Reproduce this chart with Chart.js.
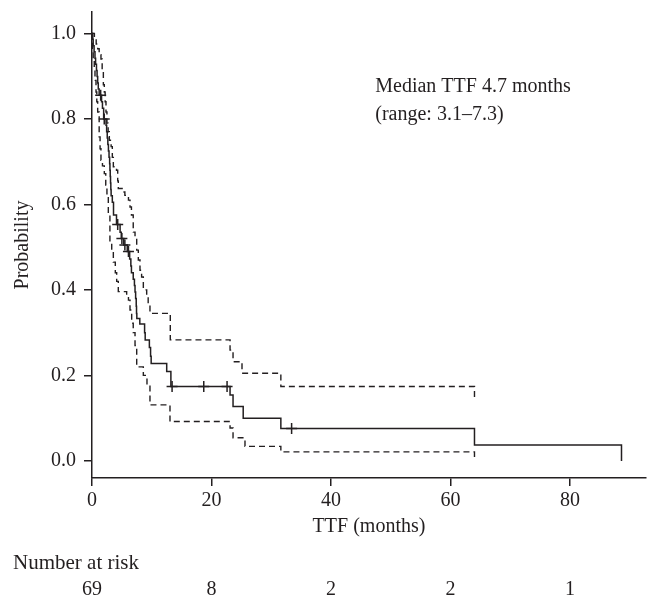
<!DOCTYPE html>
<html>
<head>
<meta charset="utf-8">
<script src="https://cdn.jsdelivr.net/npm/chart.js@4/dist/chart.umd.min.js"></script>
<style>
  html, body { margin: 0; padding: 0; background: #fff; }
  #wrap { width: 657px; height: 611px; }
</style>
</head>
<body>
<div id="wrap"><canvas id="km"></canvas></div>
<script>
// Kaplan-Meier estimate: [time in months, probability] at each step
const kmSteps = [
  [0, 1.0], [0.1, 0.986], [0.2, 0.971], [0.35, 0.957], [0.5, 0.942], [0.6, 0.928],
  [0.75, 0.913], [0.85, 0.899], [0.95, 0.884], [1.05, 0.870], [1.2, 0.855],
  [1.6, 0.84], [1.75, 0.825], [1.95, 0.80], [2.35, 0.785], [2.45, 0.77], [2.55, 0.755],
  [2.65, 0.74], [2.75, 0.725], [2.85, 0.71], [2.95, 0.695], [3.0, 0.68], [3.05, 0.665],
  [3.1, 0.65], [3.15, 0.635], [3.2, 0.62], [3.4, 0.605], [3.6, 0.575], [4.1, 0.553],
  [4.7, 0.535], [4.9, 0.52], [5.3, 0.505], [5.9, 0.49], [6.3, 0.472], [6.5, 0.456],
  [6.6, 0.44], [6.9, 0.425], [7.1, 0.41], [7.2, 0.395], [7.3, 0.38], [7.4, 0.362],
  [7.45, 0.345], [7.5, 0.333], [8.0, 0.32], [8.8, 0.30], [8.9, 0.283], [9.6, 0.265],
  [9.8, 0.245], [9.9, 0.228], [12.5, 0.209], [13.2, 0.174], [23.1, 0.154],
  [23.6, 0.127], [25.3, 0.10], [31.6, 0.076], [64.0, 0.037], [88.6, 0.0]
];

// upper and lower confidence limits
const upperSteps = [
  [0, 1.0], [0.4, 0.99], [0.7, 0.975], [0.95, 0.964], [1.2, 0.95], [1.5, 0.94],
  [1.7, 0.91], [1.9, 0.88], [2.06, 0.863], [2.2, 0.84], [2.34, 0.816], [2.5, 0.79],
  [2.7, 0.77], [2.9, 0.75], [3.2, 0.735], [3.4, 0.71], [3.57, 0.688], [4.1, 0.68],
  [4.3, 0.655], [4.4, 0.637], [5.24, 0.629], [5.5, 0.621], [6.1, 0.61], [6.36, 0.594],
  [6.6, 0.575], [6.9, 0.535], [7.2, 0.52], [7.48, 0.493], [7.75, 0.47], [8.03, 0.446],
  [8.3, 0.43], [8.59, 0.40], [9.15, 0.384], [9.4, 0.365], [9.7, 0.345], [13.1, 0.283],
  [23.1, 0.259], [23.6, 0.232], [25.1, 0.205], [31.6, 0.174], [64.0, 0.143]
];
const lowerSteps = [
  [0, 1.0], [0.1, 0.965], [0.2, 0.94], [0.38, 0.918], [0.5, 0.89], [0.67, 0.863],
  [0.8, 0.84], [0.95, 0.816], [1.2, 0.758], [1.35, 0.73], [1.5, 0.703], [1.75, 0.69],
  [2.06, 0.672], [2.3, 0.645], [2.5, 0.625], [2.73, 0.575], [3.0, 0.51], [3.3, 0.49],
  [3.57, 0.465], [3.9, 0.44], [4.13, 0.42], [4.4, 0.396], [5.8, 0.384], [6.1, 0.376],
  [6.36, 0.353], [6.64, 0.322], [6.9, 0.30], [7.2, 0.27], [7.48, 0.22], [8.59, 0.20],
  [9.2, 0.175], [9.7, 0.131], [13.05, 0.092], [23.1, 0.077], [23.6, 0.054],
  [25.6, 0.034], [31.6, 0.021], [64.0, 0.002]
];

// censored observations
const censorTime = [1.45, 2.05, 4.3, 5.0, 5.5, 6.1, 13.4, 18.7, 22.6, 33.4];
const censorProb = [0.855, 0.80, 0.553, 0.52, 0.505, 0.49, 0.174, 0.174, 0.174, 0.076];

// axes
const xTicks = [0, 20, 40, 60, 80];
const yTicks = [0, 0.2, 0.4, 0.6, 0.8, 1.0];

// number at risk table
const riskTimes = [0, 20, 40, 60, 80];
const riskCounts = [69, 8, 2, 2, 1];

const medianText = ['Median TTF 4.7 months', '(range: 3.1\u20137.3)'];

const ink = '#231f20';
const serif = '"Liberation Serif", "DejaVu Serif", serif';

const toXY = steps => steps.map(p => ({ x: p[0], y: p[1] }));

// texts drawn after the chart: median annotation and number-at-risk table
const extraText = {
  id: 'extraText',
  afterDraw(chart) {
    const ctx = chart.ctx;
    const xs = chart.scales.x;
    const ys = chart.scales.y;
    ctx.save();
    ctx.fillStyle = ink;
    ctx.font = '20px ' + serif;
    ctx.textBaseline = 'middle';
    ctx.textAlign = 'left';
    ctx.fillText(medianText[0], xs.getPixelForValue(47.4), ys.getPixelForValue(0.875));
    ctx.fillText(medianText[1], xs.getPixelForValue(47.4), ys.getPixelForValue(0.81));

    ctx.font = '21px ' + serif;
    ctx.fillText('Number at risk', 13, 563);
    ctx.font = '20px ' + serif;
    ctx.textAlign = 'center';
    riskTimes.forEach((t, i) => {
      ctx.fillText(String(riskCounts[i]), xs.getPixelForValue(t), 590);
    });
    ctx.restore();
  }
};

new Chart(document.getElementById('km'), {
  type: 'line',
  data: {
    datasets: [
      {
        label: 'KM',
        data: toXY(kmSteps),
        stepped: 'before',
        borderColor: ink,
        borderWidth: 1.5,
        pointRadius: 0,
        fill: false
      },
      {
        label: 'Upper',
        data: toXY(upperSteps),
        stepped: 'before',
        borderColor: ink,
        borderWidth: 1.4,
        borderDash: [6, 4],
        pointRadius: 0,
        fill: false
      },
      {
        label: 'Lower',
        data: toXY(lowerSteps),
        stepped: 'before',
        borderColor: ink,
        borderWidth: 1.4,
        borderDash: [6, 4],
        pointRadius: 0,
        fill: false
      },
      {
        label: 'Censored',
        data: censorTime.map((t, i) => ({ x: t, y: censorProb[i] })),
        showLine: false,
        pointStyle: 'cross',
        pointRadius: 5.5,
        pointBorderWidth: 1.5,
        pointBorderColor: ink,
        pointBackgroundColor: ink
      }
    ]
  },
  options: {
    responsive: true,
    maintainAspectRatio: false,
    animation: false,
    layout: { padding: { top: 12, right: 11, left: 0, bottom: 0 } },
    plugins: {
      legend: { display: false },
      tooltip: { enabled: false }
    },
    scales: {
      x: {
        type: 'linear',
        min: 0,
        max: 92.7,
        afterBuildTicks: s => { s.ticks = xTicks.map(v => ({ value: v })); },
        afterFit: s => { s.height = 133; s.paddingLeft = 0; s.paddingRight = 0; },
        grid: { drawOnChartArea: false, color: ink, tickLength: 8, lineWidth: 1.5 },
        border: { color: ink, width: 1.5 },
        ticks: { color: ink, font: { family: serif, size: 20 }, padding: 3 },
        title: {
          display: true,
          text: 'TTF (months)',
          color: ink,
          font: { family: serif, size: 20 },
          padding: { top: 0, bottom: 72 }
        }
      },
      y: {
        min: -0.04,
        max: 1.05,
        afterBuildTicks: s => { s.ticks = yTicks.map(v => ({ value: v })); },
        afterFit: s => { s.width = 92; s.paddingTop = 0; s.paddingBottom = 0; },
        grid: { drawOnChartArea: false, color: ink, tickLength: 8, lineWidth: 1.5 },
        border: { color: ink, width: 1.5 },
        ticks: {
          color: ink,
          font: { family: serif, size: 20 },
          padding: 8,
          callback: v => v.toFixed(1)
        },
        title: {
          display: true,
          text: 'Probability',
          color: ink,
          font: { family: serif, size: 20 },
          padding: { top: 11, bottom: 0 }
        }
      }
    }
  },
  plugins: [extraText]
});
</script>
</body>
</html>
